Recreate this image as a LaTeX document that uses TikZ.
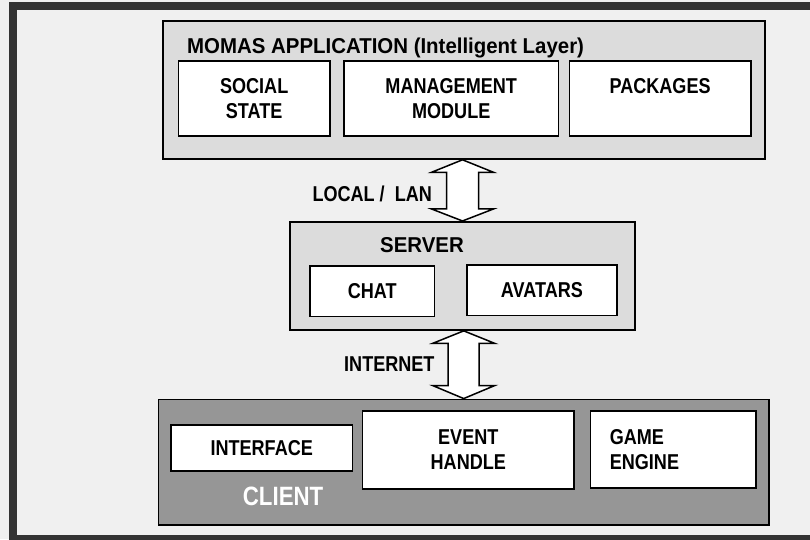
\documentclass[tikz,border=0pt]{standalone}
\usepackage{fontspec}
\setmainfont{Liberation Sans}
\newfontfamily\boxfont[FakeStretch=0.84]{Liberation Sans}
\newfontfamily\headfont[FakeStretch=0.95]{Liberation Sans}
\usetikzlibrary{calc}
\definecolor{pagegray}{HTML}{F0F0F0}
\definecolor{layergray}{HTML}{DCDCDC}
\definecolor{clientgray}{HTML}{969696}
\definecolor{framegray}{HTML}{333333}

\begin{document}
\begin{tikzpicture}[x=1pt, y=-1pt,
    layer/.style={draw, line width=1.6pt, fill=layergray, rectangle, inner sep=0pt},
    part/.style={draw, line width=1.6pt, fill=white, rectangle, align=center,
        font=\boxfont\bfseries\fontsize{21.5}{25}\selectfont},
    heading/.style={inner sep=0pt, anchor=base west,
        font=\headfont\bfseries\fontsize{21.5}{25}\selectfont},
    linklabel/.style={inner sep=0pt, anchor=base west,
        font=\boxfont\bfseries\fontsize{21.5}{25}\selectfont},
    fatarrow/.style={draw, line width=1.5pt, fill=white, line join=miter}]

    \useasboundingbox (0,0) rectangle (810,539);
    \fill[pagegray] (0,0) rectangle (810,539);
    \draw[framegray, line width=8pt] (13,6) rectangle (816,539);

    % the three layers
    \node[layer, minimum width=602pt, minimum height=138pt] (app) at (464,90) {};
    \node[layer, minimum width=345pt, minimum height=108.3pt] (server) at (462.5,275.9) {};
    \node[layer, fill=clientgray, minimum width=610.7pt, minimum height=125.7pt] (client) at (463.7,462.2) {};

    % application parts
    \node[part, minimum width=151.5pt, minimum height=75.3pt] (social) at (254.2,98.4) {SOCIAL\\STATE};
    \node[part, minimum width=214.3pt, minimum height=75.3pt] (manage) at (451.2,98.4) {MANAGEMENT\\MODULE};
    \node[part, minimum width=181.2pt, minimum height=75.3pt] (packages) at (660.1,98.4) {PACKAGES\\\phantom{X}};

    % server parts
    \node[part, minimum width=124.3pt, minimum height=50.7pt] (chat) at (372.2,291.3) {CHAT};
    \node[part, minimum width=150.3pt, minimum height=50.5pt] (avatars) at (541.9,290.3) {AVATARS};

    % client parts
    \node[part, minimum width=181.3pt, minimum height=45.7pt] (iface) at (261.7,447.9) {INTERFACE};
    \node[part, minimum width=211.3pt, minimum height=78.3pt] (event) at (468.3,449.9) {EVENT\\HANDLE};
    \node[part, align=left, text width=127pt, minimum width=165.3pt, minimum height=77.3pt] (engine) at (673.3,449.4) {GAME\\ENGINE};

    % layer names
    \node[heading] (apptitle) at (187,53) {MOMAS APPLICATION (Intelligent Layer)};
    \node[heading] (servertitle) at (380,252.7) {SERVER};
    \node[linklabel, text=white, font=\boxfont\bfseries\fontsize{26.5}{30}\selectfont] (clienttitle) at (242.7,505) {CLIENT};

    % links between the layers
    \draw[fatarrow] let \p1=(app.south), \p2=(server.north) in
        (\x2,\y1) -- (\x2+31pt,\y1-12.5pt) -- (\x2+16pt,\y1-12.5pt) -- (\x2+16pt,\y2+12pt)
        -- (\x2+31pt,\y2+12pt) -- (\x2,\y2) -- (\x2-31pt,\y2+12pt) -- (\x2-16pt,\y2+12pt)
        -- (\x2-16pt,\y1-12.5pt) -- (\x2-31pt,\y1-12.5pt) -- cycle;
    \draw[fatarrow] let \p1=(server.south), \p2=(client.north) in
        (\x2,\y1) -- (\x2+31pt,\y1-12.5pt) -- (\x2+15.5pt,\y1-12.5pt) -- (\x2+15.5pt,\y2+13pt)
        -- (\x2+31pt,\y2+13pt) -- (\x2,\y2) -- (\x2-31pt,\y2+13pt) -- (\x2-15.5pt,\y2+13pt)
        -- (\x2-15.5pt,\y1-12.5pt) -- (\x2-31pt,\y1-12.5pt) -- cycle;

    \node[linklabel] (lan) at (312.3,201.7) {LOCAL /\ \ LAN};
    \node[linklabel] (internet) at (344,371.7) {INTERNET};

\end{tikzpicture}
\end{document}
